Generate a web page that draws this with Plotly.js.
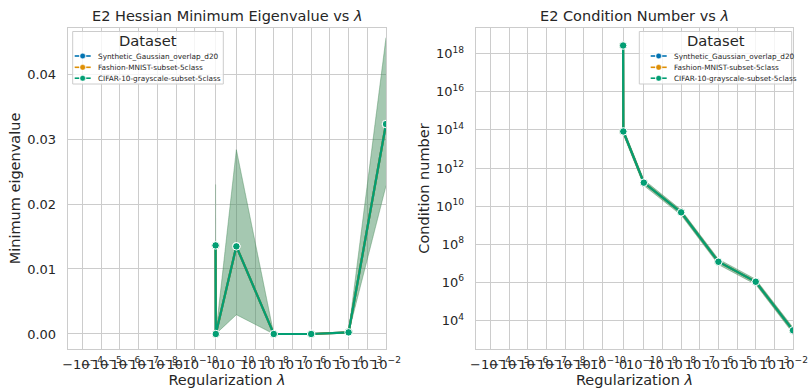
<!DOCTYPE html>
<html>
<head>
<meta charset="utf-8">
<script src="https://cdn.plot.ly/plotly-3.0.1.min.js"></script>
<style>html,body{margin:0;padding:0;background:#fff;}#chart{width:809px;height:391px;}</style>
</head>
<body>
<div id="chart"></div>
<script>
// ---------------- data ----------------
const datasets = ["Synthetic_Gaussian_overlap_d20", "Fashion-MNIST-subset-5class", "CIFAR-10-grayscale-subset-5class"];
const colors = ["#0173b2", "#de8f05", "#029e73"];
const bandColors = ["rgba(1,115,178,0.2)", "rgba(222,143,5,0.2)", "rgba(2,158,115,0.2)"];

// regularization strengths (x)
const lambdas = [0, 1e-12, 1e-10, 1e-8, 1e-6, 1e-4, 1e-2];

// minimum eigenvalue (mean and CI band) - the three datasets overlap exactly
const eigMean = [0.01363, 0.0, 0.01348, 0.0, 0.0, 0.00025, 0.0323];
const eigLow  = [0.0040, 0.0, 0.00297, 0.0, 0.0, 0.00020, 0.0228];
const eigHigh = [0.0230, 0.0, 0.02835, 0.0, 0.0, 0.00030, 0.0456];

// condition number (mean and CI band)
const condMean = [2.7e18, 8.3e13, 1.7e11, 4.7e9, 1.2e7, 1.07e6, 3.0e3];
const condLow  = [2.4e18, 5.8e13, 1.2e11, 3.4e9, 8.6e6, 7.8e5, 2.1e3];
const condHigh = [3.0e18, 1.15e14, 2.4e11, 6.4e9, 1.65e7, 1.45e6, 4.2e3];

// x tick values and labels (symlog axis)
const xTickValues = [-1e-2, -1e-3, -1e-4, -1e-5, -1e-6, -1e-7, -1e-8, -1e-9, -1e-10, 0,
                     1e-10, 1e-9, 1e-8, 1e-7, 1e-6, 1e-5, 1e-4, 1e-3, 1e-2];
const xTickLabels = ["−10<sup>−2</sup>", "−10<sup>−3</sup>", "−10<sup>−4</sup>", "−10<sup>−5</sup>",
                     "−10<sup>−6</sup>", "−10<sup>−7</sup>", "−10<sup>−8</sup>", "−10<sup>−9</sup>",
                     "−10<sup>−10</sup>", "0", "10<sup>−10</sup>", "10<sup>−9</sup>", "10<sup>−8</sup>",
                     "10<sup>−7</sup>", "10<sup>−6</sup>", "10<sup>−5</sup>", "10<sup>−4</sup>",
                     "10<sup>−3</sup>", "10<sup>−2</sup>"];
const eigTickValues = [0, 0.01, 0.02, 0.03, 0.04];
const condTickValues = [1e4, 1e6, 1e8, 1e10, 1e12, 1e14, 1e16, 1e18];
const condTickLabels = ["10<sup>4</sup>", "10<sup>6</sup>", "10<sup>8</sup>", "10<sup>10</sup>",
                        "10<sup>12</sup>", "10<sup>14</sup>", "10<sup>16</sup>", "10<sup>18</sup>"];

// ---------------- symlog scale (linthresh 1e-10, linscale 1) ----------------
const LINTHRESH = 1e-10;
const LINSCALE = 1 / (1 - 1 / 10);
function symlog(v) {
  const a = Math.abs(v);
  if (a <= LINTHRESH) return v / LINTHRESH * LINSCALE;
  return Math.sign(v) * (LINSCALE + Math.log10(a / LINTHRESH));
}
const xs = lambdas.map(symlog);

// ---------------- traces ----------------
const traces = [];
// bands for left subplot
datasets.forEach((d, i) => {
  traces.push({x: xs, y: eigLow, xaxis: "x", yaxis: "y", mode: "lines",
    line: {color: bandColors[i], width: 0.8}, showlegend: false, hoverinfo: "skip"});
  traces.push({x: xs, y: eigHigh, xaxis: "x", yaxis: "y", mode: "lines", fill: "tonexty",
    fillcolor: bandColors[i], line: {color: bandColors[i], width: 0.8}, showlegend: false, hoverinfo: "skip"});
});
// bands for right subplot
datasets.forEach((d, i) => {
  traces.push({x: xs, y: condLow, xaxis: "x2", yaxis: "y2", mode: "lines",
    line: {color: bandColors[i], width: 0.8}, showlegend: false, hoverinfo: "skip"});
  traces.push({x: xs, y: condHigh, xaxis: "x2", yaxis: "y2", mode: "lines", fill: "tonexty",
    fillcolor: bandColors[i], line: {color: bandColors[i], width: 0.8}, showlegend: false, hoverinfo: "skip"});
});
// lines
datasets.forEach((d, i) => {
  traces.push({x: xs, y: eigMean, xaxis: "x", yaxis: "y", mode: "lines+markers", name: d,
    line: {color: colors[i], width: 2.2},
    marker: {color: colors[i], size: 7.5, line: {color: "#ffffff", width: 1}}, showlegend: false});
  traces.push({x: xs, y: condMean, xaxis: "x2", yaxis: "y2", mode: "lines+markers", name: d,
    line: {color: colors[i], width: 2.2},
    marker: {color: colors[i], size: 7.5, line: {color: "#ffffff", width: 1}}, showlegend: false});
});

// ---------------- layout ----------------
const W = 809, H = 391, ML = 68, MR = 16, MT = 28, MB = 42;
const PW = W - ML - MR, PH = H - MT - MB;
const px = x => (x - ML) / PW;
const py = y => (H - MB - y) / PH;

const FONT = "DejaVu Sans, Verdana, sans-serif";
const TXT = "#262626";
const GRID = "#cccccc";
const XRANGE = [-7.89, symlog(1e-2)];

function xAxis(domain, anchor) {
  return {
    domain: domain, anchor: anchor, range: XRANGE, type: "linear",
    tickvals: xTickValues.map(symlog), ticktext: xTickLabels,
    showgrid: true, gridcolor: GRID, gridwidth: 1, zeroline: false,
    showline: true, mirror: true, linecolor: GRID, linewidth: 1.25,
    ticks: "outside", ticklen: 3, tickcolor: "rgba(0,0,0,0)",
    tickfont: {family: FONT, size: 13, color: TXT}, tickangle: 0,
    title: {text: "Regularization <i>λ</i>", font: {family: FONT, size: 14.5, color: TXT}, standoff: 2}
  };
}

const shapes = [];
const annotations = [];
// subplot titles
annotations.push({text: "E2 Hessian Minimum Eigenvalue vs <i>λ</i>", xref: "paper", yref: "paper",
  x: px(227), y: py(16.5), xanchor: "center", yanchor: "middle", showarrow: false,
  font: {family: FONT, size: 14.5, color: TXT}});
annotations.push({text: "E2 Condition Number vs <i>λ</i>", xref: "paper", yref: "paper",
  x: px(634.5), y: py(16.5), xanchor: "center", yanchor: "middle", showarrow: false,
  font: {family: FONT, size: 14.5, color: TXT}});

// legends (drawn as boxes, handles and text)
function addLegend(x0, x1, handleX, textX) {
  const top = 31.5, bottom = 84;
  shapes.push({type: "rect", xref: "paper", yref: "paper", x0: px(x0), x1: px(x1), y0: py(bottom), y1: py(top),
    fillcolor: "rgba(255,255,255,0.8)", line: {color: GRID, width: 1}, layer: "above"});
  annotations.push({text: "Dataset", xref: "paper", yref: "paper", x: px((x0 + x1) / 2), y: py(40.5),
    xanchor: "center", yanchor: "middle", showarrow: false, font: {family: FONT, size: 14.7, color: TXT}});
  const rows = [56, 67.3, 78.2];
  datasets.forEach((d, i) => {
    const yy = py(rows[i]);
    shapes.push({type: "line", xref: "paper", yref: "paper", x0: px(handleX - 8), x1: px(handleX - 3.5),
      y0: yy, y1: yy, line: {color: colors[i], width: 1.6}, layer: "above"});
    shapes.push({type: "line", xref: "paper", yref: "paper", x0: px(handleX + 3.5), x1: px(handleX + 8),
      y0: yy, y1: yy, line: {color: colors[i], width: 1.6}, layer: "above"});
    shapes.push({type: "circle", xref: "paper", yref: "paper", xsizemode: "pixel", ysizemode: "pixel",
      xanchor: px(handleX), yanchor: yy, x0: -2.8, x1: 2.8, y0: -2.8, y1: 2.8,
      fillcolor: colors[i], line: {color: "#ffffff", width: 0.5}, layer: "above"});
    annotations.push({text: d, xref: "paper", yref: "paper", x: px(textX), y: yy,
      xanchor: "left", yanchor: "middle", showarrow: false,
      font: {family: FONT, size: 7.3, color: TXT}});
  });
}
addLegend(72.7, 223.3, 82.7, 96.2);
addLegend(639.3, 791.7, 658.7, 672.2);

const layout = {
  width: W, height: H,
  margin: {l: ML, r: MR, t: MT, b: MB, pad: 0},
  paper_bgcolor: "#ffffff", plot_bgcolor: "#ffffff",
  font: {family: FONT, color: TXT},
  showlegend: false,
  xaxis: xAxis([0, px(386)], "y"),
  xaxis2: xAxis([px(476), 1], "y2"),
  yaxis: {
    domain: [0, 1], anchor: "x", range: [-0.00231, 0.04708],
    tickvals: eigTickValues, tickformat: ".2f",
    showgrid: true, gridcolor: GRID, gridwidth: 1, zeroline: false,
    showline: true, mirror: true, linecolor: GRID, linewidth: 1.25,
    ticks: "outside", ticklen: 8, tickcolor: "rgba(0,0,0,0)",
    tickfont: {family: FONT, size: 13, color: TXT},
    title: {text: "Minimum eigenvalue", font: {family: FONT, size: 14.5, color: TXT}, standoff: 3}
  },
  yaxis2: {
    domain: [0, 1], anchor: "x2", type: "log", range: [2.50, 19.35],
    tickvals: condTickValues, ticktext: condTickLabels,
    showgrid: true, gridcolor: GRID, gridwidth: 1, zeroline: false,
    showline: true, mirror: true, linecolor: GRID, linewidth: 1.25,
    ticks: "outside", ticklen: 8, tickcolor: "rgba(0,0,0,0)",
    tickfont: {family: FONT, size: 13, color: TXT},
    title: {text: "Condition number", font: {family: FONT, size: 14.5, color: TXT}, standoff: 3}
  },
  shapes: shapes,
  annotations: annotations
};

Plotly.newPlot("chart", traces, layout, {staticPlot: true, displayModeBar: false});
</script>
</body>
</html>
